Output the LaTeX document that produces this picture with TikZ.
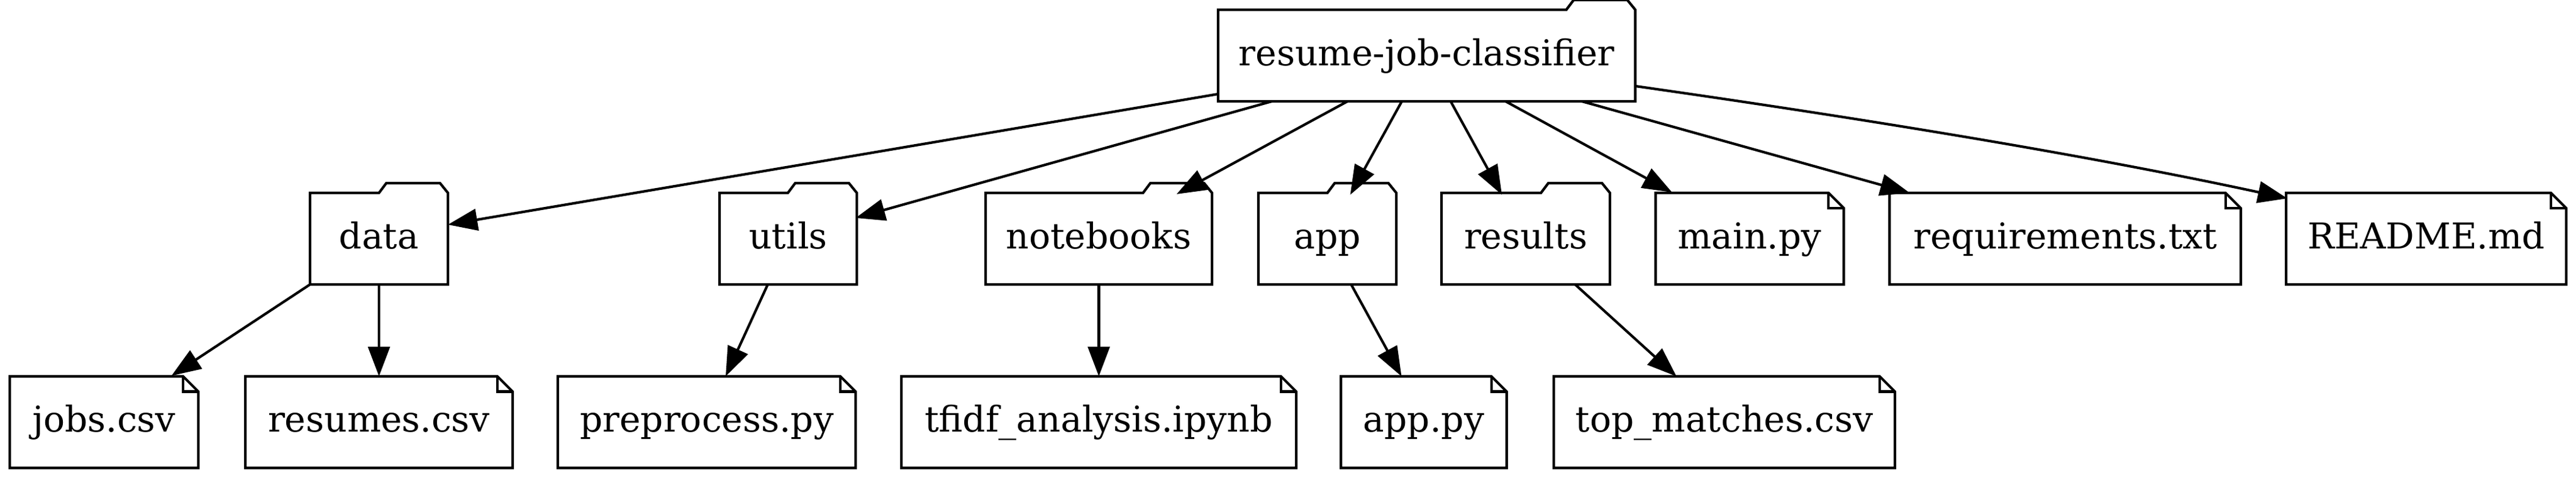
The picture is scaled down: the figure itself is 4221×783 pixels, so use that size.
\documentclass[tikz,border=0pt]{standalone}
\usepackage{fontspec}
\setmainfont{DejaVu Serif}
\usetikzlibrary{arrows.meta,calc}
\tikzset{
  treebox/.style={draw=none,inner sep=0pt,outer sep=0pt,minimum height=36pt,minimum width=#1*0.24pt,
    text height=10pt,text depth=2.3pt,font=\fontsize{14}{16}\selectfont},
  folderbox/.style={treebox=#1,append after command={\pgfextra{
    \draw[line width=1pt] (\tikzlastnode.south west) -- (\tikzlastnode.north west)
      -- ($(\tikzlastnode.north east)+(-113,0)$) -- ($(\tikzlastnode.north east)+(-101,-16)$)
      -- ($(\tikzlastnode.north east)+(-13,-16)$) -- (\tikzlastnode.north east)
      -- (\tikzlastnode.south east) -- cycle;}}},
  filebox/.style={treebox=#1,append after command={\pgfextra{
    \draw[line width=1pt] (\tikzlastnode.south west) -- (\tikzlastnode.north west)
      -- ($(\tikzlastnode.north east)+(-25,0)$) -- ($(\tikzlastnode.north east)+(0,25)$)
      -- (\tikzlastnode.south east) -- cycle;
    \draw[line width=1pt] ($(\tikzlastnode.north east)+(-25,0)$) -- ($(\tikzlastnode.north east)+(-25,25)$)
      -- ($(\tikzlastnode.north east)+(0,25)$);}}},
  link/.style={line width=1pt,-{Triangle[length=11.6pt,width=8.5pt]}},
}
\begin{document}
\begin{tikzpicture}[x=0.24pt,y=-0.24pt]
\useasboundingbox (0,0) rectangle (4221,783);
\node[folderbox=683.5] (root) at (2337.75,91) {resume-job-classifier};
\node[folderbox=226] (data) at (621,391) {data};
\node[folderbox=225] (utils) at (1291.5,391) {utils};
\node[folderbox=371] (notebooks) at (1800.5,391) {notebooks};
\node[folderbox=226] (app) at (2175,391) {app};
\node[folderbox=276] (results) at (2500,391) {results};
\node[filebox=308.5] (main) at (2867,391) {main.py};
\node[filebox=575.5] (req) at (3384,391) {requirements.txt};
\node[filebox=459] (readme) at (3975.5,391) {README.md};
\node[filebox=309] (jobs) at (170.5,691.5) {jobs.csv};
\node[filebox=438] (resumes) at (621,691.5) {resumes.csv};
\node[filebox=488] (preprocess) at (1158,691.5) {preprocess.py};
\node[filebox=647] (tfidf) at (1800.5,691.5) {tfidf\_analysis.ipynb};
\node[filebox=271.5] (apppy) at (2333,691.5) {app.py};
\node[filebox=559] (top) at (2825.5,691.5) {top\_matches.csv};
% root to second row
\draw[link] ($(root.west)+(0,63)$) -- ($(data.east)+(0,-23)$);
\draw[link] ($(root.south west)+(88,0)$) -- ($(utils.east)+(-2,-34)$);
\draw[link] ($(root.south west)+(212,0)$) -- ($(notebooks.north east)+(-58,2)$);
\draw[link] ($(root.south west)+(301,0)$) -- ($(app.north)+(37.5,3)$);
\draw[link] ($(root.south west)+(381,0)$) -- ($(results.north)+(-39,3)$);
\draw[link] ($(root.south west)+(471,0)$) -- ($(main.north west)+(27,-1)$);
\draw[link] ($(root.south west)+(596,0)$) -- ($(req.north west)+(33,0)$);
\draw[link] ($(root.east)+(0,50)$) .. controls (3030,191) and (3400,250) .. ($(readme.west)+(2,-66)$);
% second row to third row
\draw[link] (data.south west) -- ($(jobs.north)+(110.5,-1)$);
\draw[link] (data.south) -- (resumes.north);
\draw[link] ($(utils.south)+(-33.5,0)$) -- ($(preprocess.north)+(31,0)$);
\draw[link] (notebooks.south) -- (tfidf.north);
\draw[link] ($(app.south)+(39,0)$) -- ($(apppy.north)+(-36.5,0)$);
\draw[link] ($(results.south)+(81,0)$) -- ($(top.north)+(-78.5,0)$);
\end{tikzpicture}
\end{document}
